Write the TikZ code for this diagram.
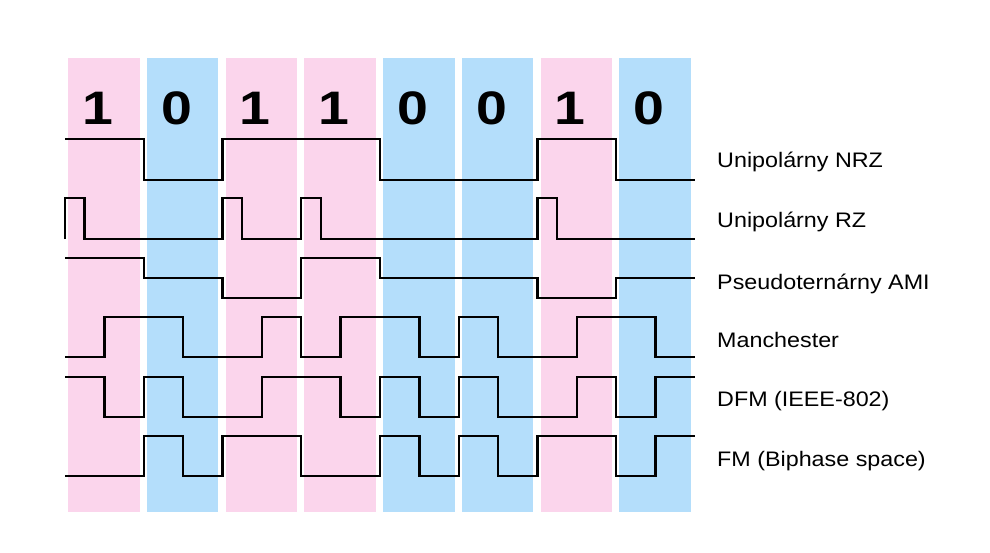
\documentclass[tikz,border=0pt]{standalone}
\usepackage{fontspec}
\setmainfont{Liberation Sans}
\definecolor{pinkbit}{RGB}{251,213,236}
\definecolor{bluebit}{RGB}{180,222,251}
\begin{document}
\begin{tikzpicture}[x=1pt,y=-1pt,
  wave/.style={draw=black,line width=2.4pt,line join=miter},
  digit/.style={anchor=base,inner sep=0pt,font=\fontsize{47}{47}\selectfont\bfseries},
  codename/.style={anchor=base west,inner sep=0pt,font=\fontsize{21}{21}\selectfont}]
\useasboundingbox (0,0) rectangle (990,552);
\fill[white] (0,0) rectangle (990,552);
% stripes
\foreach \i/\c in {0/pinkbit,1/bluebit,2/pinkbit,3/pinkbit,4/bluebit,5/bluebit,6/pinkbit,7/bluebit}{
  \pgfmathsetmacro{\bx}{65+78.75*\i}
  \fill[\c] (\bx+3,58) rectangle (\bx+74.5,512);
}
% digits
\foreach \i/\d in {0/1,1/0,2/1,3/1,4/0,5/0,6/1,7/0}{
  \pgfmathsetmacro{\bx}{65+78.75*\i+32.75}
  \node[digit] (d\i) at (\bx,124.5) {\scalebox{1.18}[1]{\d}};
}
% Unipolar NRZ
\draw[wave] (65,139) -- (143.75,139) -- (143.75,180) -- (222.5,180) -- (222.5,139) -- (380,139) -- (380,180) -- (537.5,180) -- (537.5,139) -- (616.25,139) -- (616.25,180) -- (695,180);
% Unipolar RZ
\draw[wave] (65,239) -- (65,198) -- (84.69,198) -- (84.69,239) -- (222.5,239) -- (222.5,198) -- (242.19,198) -- (242.19,239) -- (301.25,239) -- (301.25,198) -- (320.94,198) -- (320.94,239) -- (537.5,239) -- (537.5,198) -- (557.19,198) -- (557.19,239) -- (695,239);
% AMI
\draw[wave] (65,258) -- (143.75,258) -- (143.75,278) -- (222.5,278) -- (222.5,298) -- (301.25,298) -- (301.25,258) -- (380,258) -- (380,278) -- (537.5,278) -- (537.5,298) -- (616.25,298) -- (616.25,278) -- (695,278);
% Manchester
\draw[wave] (65,357) -- (104.375,357) -- (104.375,317) -- (183.125,317) -- (183.125,357) -- (261.875,357) -- (261.875,317) -- (301.25,317) -- (301.25,357) -- (340.625,357) -- (340.625,317) -- (419.375,317) -- (419.375,357) -- (458.75,357) -- (458.75,317) -- (498.125,317) -- (498.125,357) -- (576.875,357) -- (576.875,317) -- (655.625,317) -- (655.625,357) -- (695,357);
% DFM
\draw[wave] (65,377) -- (104.375,377) -- (104.375,417) -- (143.75,417) -- (143.75,377) -- (183.125,377) -- (183.125,417) -- (261.875,417) -- (261.875,377) -- (340.625,377) -- (340.625,417) -- (380,417) -- (380,377) -- (419.375,377) -- (419.375,417) -- (458.75,417) -- (458.75,377) -- (498.125,377) -- (498.125,417) -- (576.875,417) -- (576.875,377) -- (616.25,377) -- (616.25,417) -- (655.625,417) -- (655.625,377) -- (695,377);
% FM
\draw[wave] (65,476) -- (143.75,476) -- (143.75,436) -- (183.125,436) -- (183.125,476) -- (222.5,476) -- (222.5,436) -- (301.25,436) -- (301.25,476) -- (380,476) -- (380,436) -- (419.375,436) -- (419.375,476) -- (458.75,476) -- (458.75,436) -- (498.125,436) -- (498.125,476) -- (537.5,476) -- (537.5,436) -- (616.25,436) -- (616.25,476) -- (655.625,476) -- (655.625,436) -- (695,436);
% labels
\node[codename] (lnrz) at (717,167.3) {\scalebox{1.11}[1]{Unipolárny NRZ}};
\node[codename] (lrz) at (717,227.3) {\scalebox{1.11}[1]{Unipolárny RZ}};
\node[codename] (lami) at (717,289.3) {\scalebox{1.11}[1]{Pseudoternárny AMI}};
\node[codename] (lman) at (717,347.3) {\scalebox{1.11}[1]{Manchester}};
\node[codename] (ldfm) at (717,406.7) {\scalebox{1.11}[1]{DFM (IEEE-802)}};
\node[codename] (lfm) at (717,466.7) {\scalebox{1.11}[1]{FM (Biphase space)}};
\end{tikzpicture}
\end{document}
